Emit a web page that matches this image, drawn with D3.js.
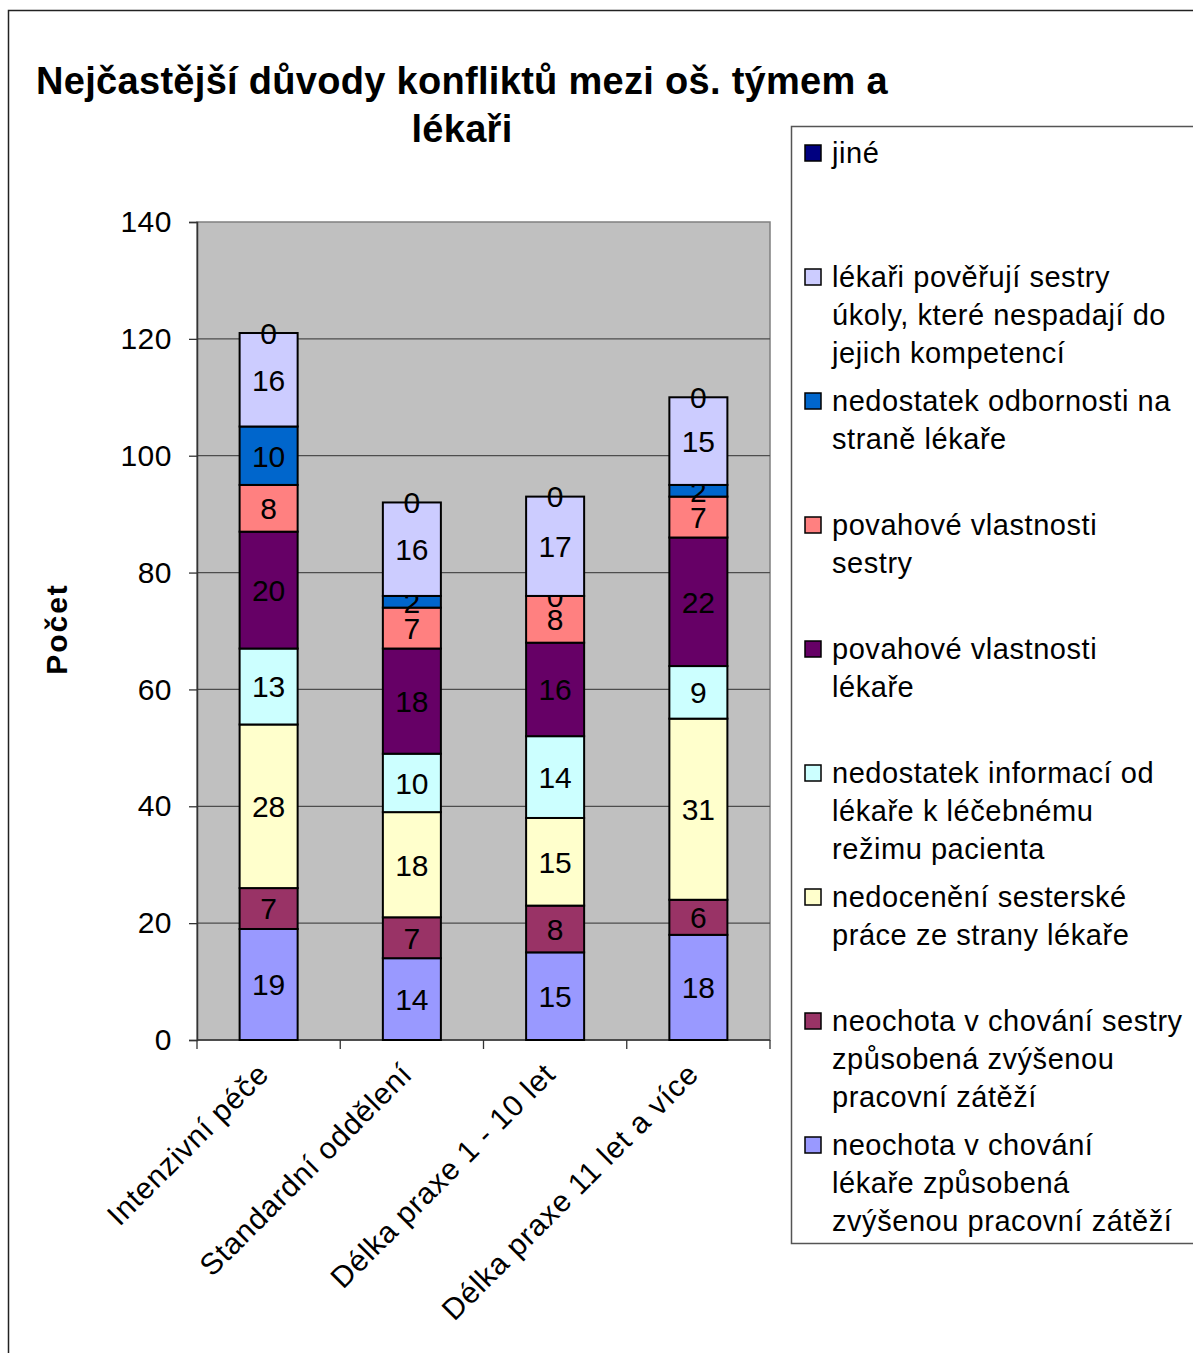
<!DOCTYPE html>
<html>
<head>
<meta charset="utf-8">
<script src="https://cdn.jsdelivr.net/npm/d3@7"></script>
<style>
  body { margin: 0; background: #fff; }
  svg { display: block; font-family: "Liberation Sans", Arial, sans-serif; }
</style>
</head>
<body>
<div id="chart"></div>
<script>
const W = 1193;
const H = 1353;

const categories = ['Intenzivní péče', 'Standardní oddělení', 'Délka praxe  1 - 10 let', 'Délka praxe  11 let a více'];

// series in stacking order, bottom to top
const seriesNames = [
  ['neochota  v chování', 'lékaře způsobená', 'zvýšenou pracovní zátěží'],
  ['neochota v chování sestry', 'způsobená zvýšenou', 'pracovní zátěží'],
  ['nedocenění sesterské', 'práce ze strany lékaře'],
  ['nedostatek informací od', 'lékaře k léčebnému', 'režimu pacienta'],
  ['povahové vlastnosti', 'lékaře'],
  ['povahové vlastnosti', 'sestry'],
  ['nedostatek odbornosti na', 'straně lékaře'],
  ['lékaři pověřují sestry', 'úkoly, které nespadají do', 'jejich kompetencí'],
  ['jiné']
];
const seriesColors = ['#9999ff', '#993366', '#ffffcc', '#ccffff', '#660066', '#ff8080', '#0066cc', '#ccccff', '#000080'];

const neochotaLekare = [19, 14, 15, 18];
const neochotaSestry = [7, 7, 8, 6];
const nedoceneni = [28, 18, 15, 31];
const nedostatekInformaci = [13, 10, 14, 9];
const povahaLekare = [20, 18, 16, 22];
const povahaSestry = [8, 7, 8, 7];
const nedostatekOdbornosti = [10, 2, 0, 2];
const povereniUkoly = [16, 16, 17, 15];
const jine = [0, 0, 0, 0];

const seriesValues = [neochotaLekare, neochotaSestry, nedoceneni, nedostatekInformaci,
  povahaLekare, povahaSestry, nedostatekOdbornosti, povereniUkoly, jine];

const yTicks = [0, 20, 40, 60, 80, 100, 120, 140];

const rows = categories.map((c, i) => {
  const r = { cat: c };
  seriesValues.forEach((s, k) => { r['s' + k] = s[i]; });
  return r;
});
const keys = seriesValues.map((s, k) => 's' + k);
const stacked = d3.stack().keys(keys)(rows);

const plot = { left: 197, right: 770, top: 222, bottom: 1040 };

const svg = d3.select('#chart').append('svg')
  .attr('width', W).attr('height', H);

// outer chart frame
svg.append('path')
  .attr('d', `M8.5,${H} V10.5 H${W}`)
  .attr('fill', 'none').attr('stroke', '#222').attr('stroke-width', 1.5);

const x = d3.scaleBand().domain(categories)
  .range([plot.left, plot.right]).paddingInner(0.595).paddingOuter(0.2975);
const y = d3.scaleLinear().domain([0, 140]).range([plot.bottom, plot.top]);

svg.append('rect')
  .attr('x', plot.left).attr('y', plot.top)
  .attr('width', plot.right - plot.left).attr('height', plot.bottom - plot.top)
  .attr('fill', '#c0c0c0').attr('stroke', '#808080').attr('stroke-width', 1.5);

svg.append('g').selectAll('line')
  .data(yTicks.filter(t => t > 0 && t < 140))
  .join('line')
  .attr('x1', plot.left).attr('x2', plot.right)
  .attr('y1', d => y(d)).attr('y2', d => y(d))
  .attr('stroke', '#4d4d4d').attr('stroke-width', 1.3);

// y axis
const yAxis = svg.append('g')
  .attr('transform', `translate(${plot.left},0)`)
  .call(d3.axisLeft(y).tickValues(yTicks).tickSize(8).tickPadding(17));
yAxis.select('.domain').attr('stroke', '#333').attr('stroke-width', 1.5);
yAxis.selectAll('.tick line').attr('stroke', '#333').attr('stroke-width', 1.3);
yAxis.selectAll('.tick text').attr('font-size', 30).attr('fill', '#000')
  .attr('letter-spacing', 0.5)
  .attr('font-family', '"Liberation Sans", Arial, sans-serif');

// x axis: ticks between categories
const step = x.step();
const boundaries = d3.range(categories.length + 1).map(i => plot.left + i * step);
svg.append('line')
  .attr('x1', plot.left).attr('x2', plot.right)
  .attr('y1', plot.bottom).attr('y2', plot.bottom)
  .attr('stroke', '#333').attr('stroke-width', 1.5);
svg.append('g').selectAll('line').data(boundaries).join('line')
  .attr('x1', d => d).attr('x2', d => d)
  .attr('y1', plot.bottom).attr('y2', plot.bottom + 9)
  .attr('stroke', '#333').attr('stroke-width', 1.3);

svg.append('g').selectAll('text').data(categories).join('text')
  .attr('transform', d => `translate(${x(d) + x.bandwidth() / 2 + 2},${plot.bottom + 36}) rotate(-45)`)
  .attr('text-anchor', 'end')
  .attr('font-size', 30)
  .attr('letter-spacing', 0.8)
  .text(d => d);

// bars
const layers = svg.append('g').selectAll('g').data(stacked).join('g')
  .attr('fill', (d, i) => seriesColors[i]);
layers.selectAll('rect').data(d => d).join('rect')
  .attr('x', d => x(d.data.cat))
  .attr('width', x.bandwidth())
  .attr('y', d => y(d[1]))
  .attr('height', d => y(d[0]) - y(d[1]))
  .attr('stroke', '#000').attr('stroke-width', 2);

// value labels
layers.selectAll('text').data(d => d.map(v => ({ v, key: d.key }))).join('text')
  .attr('x', d => x(d.v.data.cat) + x.bandwidth() / 2)
  .attr('y', d => (y(d.v[0]) + y(d.v[1])) / 2)
  .attr('dy', '0.36em')
  .attr('text-anchor', 'middle')
  .attr('font-size', 30)
  .attr('fill', '#000')
  .text(d => d.v.data[d.key]);

// title
const title = svg.append('text')
  .attr('text-anchor', 'middle')
  .attr('font-size', 38).attr('font-weight', 'bold')
  .attr('letter-spacing', 0.3);
title.append('tspan').attr('x', 462).attr('y', 94).text('Nejčastější důvody konfliktů mezi oš. týmem a');
title.append('tspan').attr('x', 462).attr('y', 142).text('lékaři');

// y title
svg.append('text')
  .attr('transform', `translate(67,629) rotate(-90)`)
  .attr('text-anchor', 'middle')
  .attr('font-size', 30).attr('font-weight', 'bold')
  .attr('letter-spacing', 2)
  .text('Počet');

// legend
const legend = svg.append('g');
legend.append('path')
  .attr('d', `M${W},126.5 H791.5 V1243.5 H${W}`)
  .attr('fill', '#fff').attr('stroke', '#555').attr('stroke-width', 1.5);

const legendOrder = d3.range(seriesNames.length).reverse();
const item = legend.selectAll('g.item').data(legendOrder).join('g')
  .attr('class', 'item')
  .attr('transform', (d, i) => `translate(0,${153 + i * 124})`);
item.append('rect')
  .attr('x', 805).attr('y', -8).attr('width', 16).attr('height', 16)
  .attr('fill', d => seriesColors[d]).attr('stroke', '#000').attr('stroke-width', 1.5);
item.append('text')
  .attr('font-size', 29)
  .attr('letter-spacing', 0.55)
  .selectAll('tspan').data(d => seriesNames[d]).join('tspan')
  .attr('x', 832).attr('y', (d, i) => i * 38)
  .attr('dy', '0.36em')
  .text(d => d);
</script>
</body>
</html>
